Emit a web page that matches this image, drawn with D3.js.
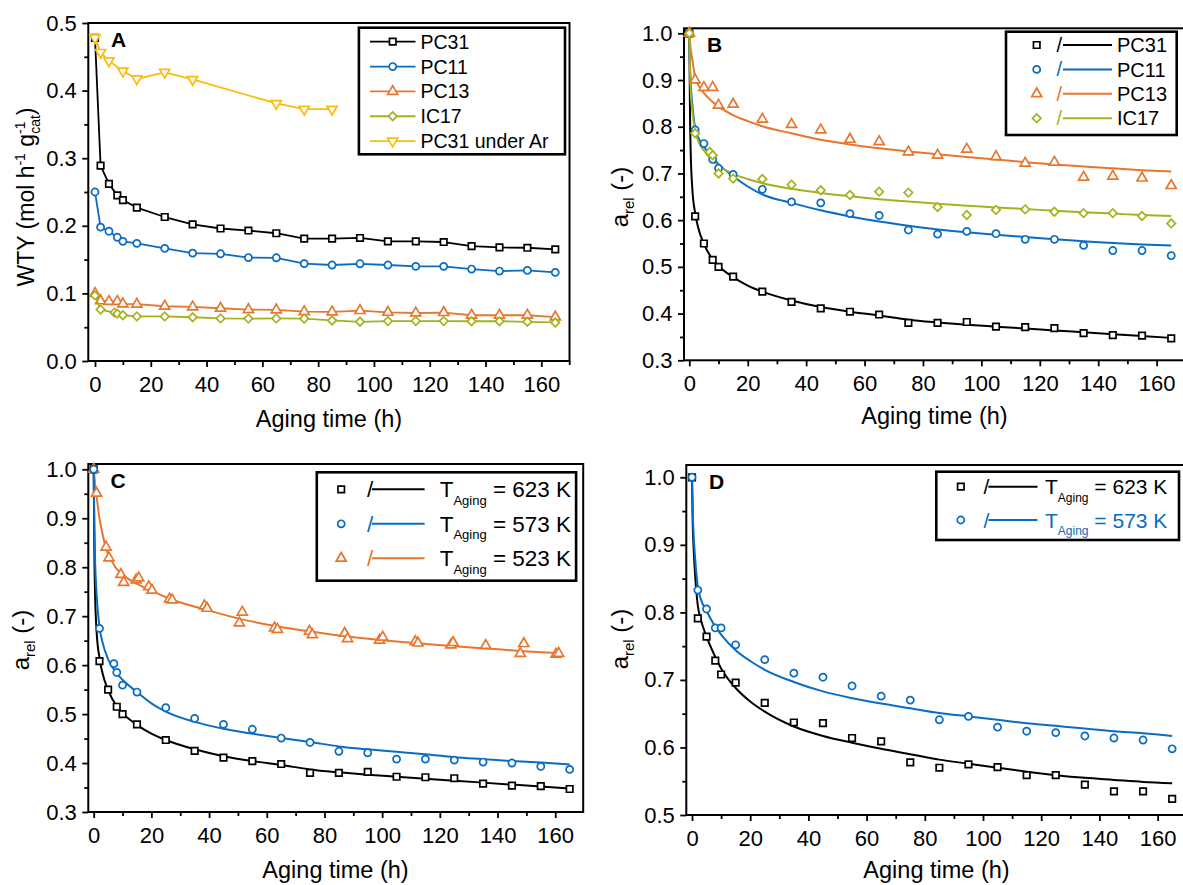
<!DOCTYPE html>
<html>
<head>
<meta charset="utf-8">
<title>Catalyst aging</title>
<script src="https://cdn.jsdelivr.net/npm/d3@7/dist/d3.min.js"></script>
<style>
  body { margin: 0; background: #fff; }
  svg { display: block; font-family: "Liberation Sans", Arial, sans-serif; }
</style>
</head>
<body>
<svg id="chart" width="1183" height="885"></svg>
<script>
// ---------- values ----------
const ticksHours = [0, 20, 40, 60, 80, 100, 120, 140, 160];
const ticksWTY = [0.0, 0.1, 0.2, 0.3, 0.4, 0.5];
const ticksRel = [0.3, 0.4, 0.5, 0.6, 0.7, 0.8, 0.9, 1.0];
const ticksRelD = [0.5, 0.6, 0.7, 0.8, 0.9, 1.0];

// sampling times (h)
const hours = [0, 2, 5, 8, 10, 15, 25, 35, 45, 55, 65, 75, 85, 95, 105, 115, 125, 135, 145, 155, 165];
const hoursAlt = [0, 2, 7, 8, 10, 15, 25, 35, 45, 55, 65, 75, 85, 95, 105, 115, 125, 135, 145, 155, 165];
const hoursAr = [0, 2, 5, 10, 15, 25, 35, 65, 75, 85];

// panel A: WTY (mol h-1 gcat-1)
const catalystsA = ["PC31", "PC11", "PC13", "IC17", "PC31 under Ar"];
const wtyPC31 = [0.478, 0.289, 0.262, 0.245, 0.238, 0.227, 0.213, 0.202, 0.196, 0.193, 0.189, 0.181, 0.181, 0.182, 0.177, 0.177, 0.176, 0.170, 0.168, 0.1675, 0.165];
const wtyPC11 = [0.250, 0.198, 0.192, 0.183, 0.177, 0.174, 0.1665, 0.1596, 0.1586, 0.153, 0.1527, 0.144, 0.142, 0.1438, 0.142, 0.140, 0.140, 0.136, 0.133, 0.134, 0.131];
const wtyPC13 = [0.100, 0.089, 0.088, 0.088, 0.0845, 0.084, 0.081, 0.080, 0.078, 0.076, 0.0756, 0.073, 0.0726, 0.0746, 0.072, 0.071, 0.0716, 0.0677, 0.0677, 0.0677, 0.065];
const wtyIC17 = [0.097, 0.076, 0.0716, 0.070, 0.0677, 0.066, 0.066, 0.0647, 0.063, 0.0627, 0.063, 0.0627, 0.060, 0.058, 0.059, 0.059, 0.059, 0.0588, 0.0588, 0.058, 0.057];
const wtyAr = [0.478, 0.4565, 0.444, 0.429, 0.4175, 0.427, 0.4165, 0.381, 0.3725, 0.3725];

// panel B: relative activity, measured
const catalystsB = ["PC31", "PC11", "PC13", "IC17"];
const relPC31 = [1.0, 0.608, 0.550, 0.515, 0.500, 0.479, 0.447, 0.425, 0.411, 0.404, 0.398, 0.380, 0.380, 0.382, 0.372, 0.371, 0.369, 0.358, 0.354, 0.353, 0.347];
const relPC11 = [1.0, 0.793, 0.764, 0.730, 0.711, 0.698, 0.666, 0.639, 0.637, 0.614, 0.610, 0.579, 0.570, 0.576, 0.571, 0.559, 0.559, 0.546, 0.535, 0.535, 0.524];
const relPC13 = [1.0, 0.900, 0.884, 0.884, 0.846, 0.848, 0.816, 0.805, 0.793, 0.773, 0.768, 0.746, 0.739, 0.752, 0.736, 0.722, 0.724, 0.692, 0.694, 0.690, 0.674];
const relIC17 = [1.0, 0.786, 0.746, 0.739, 0.700, 0.689, 0.688, 0.676, 0.664, 0.654, 0.661, 0.659, 0.628, 0.611, 0.622, 0.623, 0.618, 0.615, 0.615, 0.609, 0.593];

// fitted curves, read at these times
const fitHours = [0, 0.25, 0.5, 1, 2, 3, 5, 8, 10, 15, 20, 25, 35, 45, 55, 65, 75, 85, 95, 105, 115, 125, 135, 145, 155, 165];
const fitPC31 = [1.0, 0.82, 0.74, 0.67, 0.615, 0.585, 0.549, 0.516, 0.502, 0.478, 0.460, 0.447, 0.428, 0.414, 0.404, 0.396, 0.387, 0.381, 0.376, 0.372, 0.368, 0.364, 0.360, 0.356, 0.352, 0.348];
const fitPC11 = [1.0, 0.93, 0.89, 0.85, 0.797, 0.778, 0.757, 0.733, 0.720, 0.694, 0.672, 0.655, 0.637, 0.621, 0.608, 0.597, 0.588, 0.580, 0.574, 0.569, 0.564, 0.559, 0.555, 0.551, 0.548, 0.546];
const fitPC13 = [1.0, 0.98, 0.965, 0.945, 0.905, 0.89, 0.872, 0.853, 0.843, 0.825, 0.812, 0.801, 0.786, 0.772, 0.762, 0.754, 0.747, 0.741, 0.735, 0.730, 0.724, 0.719, 0.715, 0.711, 0.707, 0.704];
const fitIC17 = [1.0, 0.92, 0.875, 0.835, 0.790, 0.770, 0.749, 0.727, 0.717, 0.699, 0.688, 0.679, 0.667, 0.658, 0.651, 0.645, 0.640, 0.635, 0.631, 0.627, 0.624, 0.620, 0.617, 0.614, 0.611, 0.609];

// panel C: aging temperature, PC31
const tempsC = ["623", "573", "523"];
const rel623 = relPC31;
const rel573 = [1.0, 0.675, 0.603, 0.585, 0.559, 0.545, 0.513, 0.491, 0.479, 0.469, 0.451, 0.442, 0.424, 0.421, 0.408, 0.408, 0.406, 0.402, 0.400, 0.393, 0.387];
const hours523 = [0, 1.0, 4.3, 5.3, 9.4, 10.4, 14.7, 15.6, 19.1, 20.2, 26.3, 27.2, 38.4, 39.3, 50.5, 51.5, 62.7, 63.7, 74.8, 75.8, 87.0, 88.0, 99.1, 100.2, 111.5, 112.4, 123.8, 124.6, 135.9, 147.9, 149.1, 160.3, 161.2];
const rel523 = [1.0, 0.951, 0.841, 0.819, 0.785, 0.769, 0.774, 0.778, 0.760, 0.753, 0.735, 0.733, 0.721, 0.716, 0.686, 0.708, 0.676, 0.673, 0.669, 0.662, 0.665, 0.654, 0.651, 0.657, 0.648, 0.645, 0.641, 0.646, 0.640, 0.624, 0.644, 0.622, 0.624];
const fit623 = fitPC31;
const fit573 = [1.0, 0.88, 0.81, 0.745, 0.678, 0.648, 0.612, 0.583, 0.570, 0.545, 0.522, 0.505, 0.484, 0.470, 0.460, 0.451, 0.443, 0.434, 0.428, 0.423, 0.418, 0.412, 0.408, 0.404, 0.401, 0.397];
const fit523Hours = [0, 0.5, 1, 2, 3, 4.3, 6, 9.4, 12, 15, 20, 27, 39, 51, 63, 76, 87, 100, 112, 124, 136, 148, 161];
const fit523 = [1.0, 0.97, 0.945, 0.90, 0.87, 0.838, 0.815, 0.787, 0.776, 0.766, 0.752, 0.734, 0.713, 0.694, 0.680, 0.668, 0.659, 0.651, 0.645, 0.639, 0.634, 0.629, 0.625];

// panel D: aging temperature, PC11
const tempsD = ["623", "573"];
const relD623 = [1.0, 0.791, 0.764, 0.7285, 0.708, 0.696, 0.666, 0.637, 0.636, 0.614, 0.609, 0.578, 0.570, 0.575, 0.571, 0.559, 0.559, 0.545, 0.535, 0.535, 0.524];
const relD573 = [1.0, 0.833, 0.805, 0.777, 0.777, 0.752, 0.730, 0.710, 0.704, 0.691, 0.676, 0.670, 0.641, 0.646, 0.630, 0.624, 0.622, 0.617, 0.614, 0.611, 0.598];
const fitD623 = [1.0, 0.93, 0.90, 0.86, 0.81, 0.79, 0.764, 0.734, 0.717, 0.688, 0.668, 0.653, 0.631, 0.617, 0.607, 0.598, 0.590, 0.582, 0.576, 0.570, 0.564, 0.559, 0.555, 0.552, 0.549, 0.547];
const fitD573 = [1.0, 0.95, 0.92, 0.885, 0.838, 0.82, 0.802, 0.779, 0.767, 0.744, 0.728, 0.715, 0.697, 0.683, 0.673, 0.665, 0.658, 0.651, 0.646, 0.641, 0.636, 0.632, 0.628, 0.624, 0.621, 0.617];

// ---------- styling ----------
const BLACK = "#000000", BLUE = "#0a6cc2", ORANGE = "#e8762d", GREEN = "#a5b21c", GOLD = "#fdbb0a";
const TICK_FS = 22, TITLE_FS = 23.5;
const FONT = '"Liberation Sans", Arial, sans-serif';

const svg = d3.select("#chart");

const symbolPath = {
  square: d3.symbol().type(d3.symbolSquare).size(42)(),
  circle: d3.symbol().type(d3.symbolCircle).size(40)(),
  up: d3.symbol().type(d3.symbolTriangle).size(44)(),
  down: d3.symbol().type(d3.symbolTriangle).size(44)(),
  diamond: d3.symbol().type(d3.symbolSquare).size(36)()
};
const symbolRot = { square: 0, circle: 0, up: 0, down: 180, diamond: 45 };

function midpoints(arr) {
  return d3.pairs(arr).map(([a, b]) => (a + b) / 2);
}

function makePanel(p) {
  const x = d3.scaleLinear().domain(p.xDomain).range([p.left, p.right]);
  const y = d3.scaleLinear().domain(p.yDomain).range([p.bottom, p.top]);
  const g = svg.append("g");

  const xMinor = midpoints(ticksHours).concat([170]).filter(v => v <= p.xDomain[1]);
  const yMinor = midpoints(p.yTicks);

  const styleAxis = sel => {
    sel.select(".domain").remove();
    sel.selectAll(".tick line").attr("stroke", "#000").attr("stroke-width", 1.8);
    sel.selectAll(".tick text").attr("fill", "#000").style("font-size", TICK_FS + "px")
      .style("font-family", FONT);
  };

  g.append("g").attr("transform", `translate(0,${p.bottom})`)
    .call(d3.axisBottom(x).tickValues(xMinor).tickSize(4).tickFormat(""))
    .call(styleAxis);
  g.append("g").attr("transform", `translate(0,${p.bottom})`)
    .call(d3.axisBottom(x).tickValues(ticksHours).tickSize(6).tickPadding(9).tickFormat(d3.format("d")))
    .call(styleAxis);
  g.append("g").attr("transform", `translate(${p.left},0)`)
    .call(d3.axisLeft(y).tickValues(yMinor).tickSize(4).tickFormat(""))
    .call(styleAxis);
  g.append("g").attr("transform", `translate(${p.left},0)`)
    .call(d3.axisLeft(y).tickValues(p.yTicks).tickSize(6).tickPadding(5.5).tickFormat(d3.format(".1f")))
    .call(styleAxis);

  g.append("rect")
    .attr("x", p.left).attr("y", p.top)
    .attr("width", p.right - p.left).attr("height", p.bottom - p.top)
    .attr("fill", "none").attr("stroke", "#000").attr("stroke-width", 2);

  // panel letter
  g.append("text").attr("x", p.letterX).attr("y", p.letterY)
    .attr("font-size", 21).attr("font-weight", "bold").text(p.letter);

  // x title
  g.append("text").attr("x", p.xTitleX).attr("y", p.xTitleY)
    .attr("text-anchor", "middle").attr("font-size", TITLE_FS).text("Aging time (h)");

  return { g, x, y };
}

function drawLine(panel, xs, ys, color, width, curve) {
  const line = d3.line().x(d => panel.x(d[0])).y(d => panel.y(d[1])).curve(curve);
  panel.g.append("path")
    .attr("d", line(xs.map((v, i) => [v, ys[i]])))
    .attr("fill", "none").attr("stroke", color).attr("stroke-width", width)
    .attr("stroke-linejoin", "round");
}

function drawMarkers(panel, xs, ys, kind, color) {
  panel.g.append("g").selectAll("path")
    .data(xs.map((v, i) => [v, ys[i]]))
    .join("path")
    .attr("d", symbolPath[kind])
    .attr("transform", d => `translate(${panel.x(d[0])},${panel.y(d[1])}) rotate(${symbolRot[kind]})`)
    .attr("fill", "#fff").attr("stroke", color).attr("stroke-width", 1.7);
}

function legendMarker(g, cx, cy, kind, color) {
  g.append("path").attr("d", symbolPath[kind])
    .attr("transform", `translate(${cx},${cy}) rotate(${symbolRot[kind]})`)
    .attr("fill", "#fff").attr("stroke", color).attr("stroke-width", 1.7);
}

function legendBox(g, x0, y0, x1, y1) {
  g.append("rect").attr("x", x0).attr("y", y0).attr("width", x1 - x0).attr("height", y1 - y0)
    .attr("fill", "#fff").attr("stroke", "#000").attr("stroke-width", 2.6);
}

function yTitleRel(cx, cy) {
  const t = svg.append("text").attr("transform", `translate(${cx},${cy}) rotate(-90)`)
    .attr("text-anchor", "middle").attr("font-size", 24);
  t.append("tspan").text("a");
  t.append("tspan").attr("font-size", 15).attr("dy", 6).text("rel");
  t.append("tspan").attr("dy", -6).text(" (-)");
}

// ================= Panel A =================
const pA = makePanel({
  left: 88.3, right: 569.5, top: 23, bottom: 361,
  xDomain: [-2.4, 170.1], yDomain: [0, 0.5], yTicks: ticksWTY,
  letter: "A", letterX: 111, letterY: 47, xTitleX: 329, xTitleY: 426.5
});
const seriesA = [
  { xs: hours, ys: wtyPC31, kind: "square", color: BLACK },
  { xs: hours, ys: wtyPC11, kind: "circle", color: BLUE },
  { xs: hours, ys: wtyPC13, kind: "up", color: ORANGE },
  { xs: hoursAlt, ys: wtyIC17, kind: "diamond", color: GREEN },
  { xs: hoursAr, ys: wtyAr, kind: "down", color: GOLD }
];
seriesA.forEach(s => {
  drawLine(pA, s.xs, s.ys, s.color, 1.8, d3.curveLinear);
  drawMarkers(pA, s.xs, s.ys, s.kind, s.color);
});
{
  const lg = pA.g.append("g");
  legendBox(lg, 358.9, 27.7, 565, 154.3);
  seriesA.forEach((s, i) => {
    const cy = 41.7 + i * 24.85;
    lg.append("line").attr("x1", 370).attr("x2", 415.5).attr("y1", cy).attr("y2", cy)
      .attr("stroke", s.color).attr("stroke-width", 1.8);
    legendMarker(lg, 392.7, cy, s.kind, s.color);
    lg.append("text").attr("x", 420.5).attr("y", cy + 7).attr("font-size", 19.5).text(catalystsA[i]);
  });
}
{
  const t = svg.append("text").attr("transform", "translate(34,197) rotate(-90)")
    .attr("text-anchor", "middle").attr("font-size", 23);
  t.append("tspan").text("WTY (mol h");
  t.append("tspan").attr("font-size", 14).attr("dy", -9).text("-1");
  t.append("tspan").attr("dy", 9).text(" g");
  t.append("tspan").attr("font-size", 14).attr("dy", -9).text("-1");
  t.append("tspan").attr("font-size", 14).attr("dx", -12.4).attr("dy", 15).text("cat");
  t.append("tspan").attr("dy", -6).text(")");
}

// ================= Panel B =================
const pB = makePanel({
  left: 684, right: 1187, top: 28.3, bottom: 360.3,
  xDomain: [-1.82, 170.4], yDomain: [0.3, 1.0107], yTicks: ticksRel,
  letter: "B", letterX: 707, letterY: 52, xTitleX: 934.5, xTitleY: 424
});
const seriesB = [
  { ys: relPC31, fit: fitPC31, xs: hours, kind: "square", color: BLACK },
  { ys: relPC11, fit: fitPC11, xs: hours, kind: "circle", color: BLUE },
  { ys: relPC13, fit: fitPC13, xs: hours, kind: "up", color: ORANGE },
  { ys: relIC17, fit: fitIC17, xs: hoursAlt, kind: "diamond", color: GREEN }
];
seriesB.forEach(s => drawLine(pB, fitHours, s.fit, s.color, 2, d3.curveMonotoneX));
seriesB.forEach(s => drawMarkers(pB, s.xs, s.ys, s.kind, s.color));
{
  const lg = pB.g.append("g");
  legendBox(lg, 1006, 31.7, 1176.7, 135);
  seriesB.forEach((s, i) => {
    const cy = 45 + i * 24.4;
    legendMarker(lg, 1036.7, cy, s.kind, s.color);
    lg.append("text").attr("x", 1056.5).attr("y", cy + 7).attr("font-size", 20).attr("fill", s.color).text("/");
    lg.append("line").attr("x1", 1063).attr("x2", 1112).attr("y1", cy).attr("y2", cy)
      .attr("stroke", s.color).attr("stroke-width", 2);
    lg.append("text").attr("x", 1117).attr("y", cy + 7.2).attr("font-size", 20).text(catalystsB[i]);
  });
}
yTitleRel(627.5, 197);

// ================= Panel C =================
const pC = makePanel({
  left: 88.3, right: 583.2, top: 464, bottom: 812,
  xDomain: [-1.87, 169.7], yDomain: [0.3, 1.0108], yTicks: ticksRel,
  letter: "C", letterX: 110.5, letterY: 488, xTitleX: 335.5, xTitleY: 878
});
const seriesC = [
  { xs: hours, ys: rel623, fx: fitHours, fit: fit623, kind: "square", color: BLACK },
  { xs: hours523, ys: rel523, fx: fit523Hours, fit: fit523, kind: "up", color: ORANGE },
  { xs: hoursAlt, ys: rel573, fx: fitHours, fit: fit573, kind: "circle", color: BLUE }
];
seriesC.forEach(s => drawLine(pC, s.fx, s.fit, s.color, 2, d3.curveMonotoneX));
seriesC.forEach(s => drawMarkers(pC, s.xs, s.ys, s.kind, s.color));
function tempLegend(g, entries, temps, opt) {
  entries.forEach((s, i) => {
    const cy = opt.y0 + i * opt.step;
    const base = cy + 0.358 * opt.fs;
    legendMarker(g, opt.mx, cy, s.kind, s.color);
    g.append("text").attr("x", opt.sx).attr("y", base).attr("font-size", opt.fs).attr("fill", s.color).text("/");
    g.append("line").attr("x1", opt.l0).attr("x2", opt.l1).attr("y1", cy).attr("y2", cy)
      .attr("stroke", s.color).attr("stroke-width", 2);
    const t = g.append("text").attr("x", opt.tx).attr("y", base).attr("font-size", opt.fs)
      .attr("fill", s.textColor || "#000");
    t.append("tspan").text("T");
    t.append("tspan").attr("font-size", opt.sub).attr("dy", 7.5).text("Aging");
    t.append("tspan").attr("dy", -7.5).text(" = " + temps[i] + " K");
  });
}
{
  const lg = pC.g.append("g");
  legendBox(lg, 316.8, 472.3, 576.1, 580.7);
  tempLegend(lg, [seriesC[0], seriesC[2], seriesC[1]], tempsC,
    { y0: 489.3, step: 34.5, fs: 22.5, sub: 13, mx: 341.2, sx: 367, l0: 372, l1: 424.6, tx: 439.7 });
}
yTitleRel(28.5, 640);

// ================= Panel D =================
const pD = makePanel({
  left: 686.3, right: 1187, top: 465, bottom: 815,
  xDomain: [-1.96, 170.1], yDomain: [0.5, 1.0182], yTicks: ticksRelD,
  letter: "D", letterX: 709, letterY: 489, xTitleX: 936.5, xTitleY: 878
});
const seriesD = [
  { ys: relD623, fit: fitD623, kind: "square", color: BLACK, textColor: BLACK },
  { ys: relD573, fit: fitD573, kind: "circle", color: BLUE, textColor: BLUE }
];
seriesD.forEach(s => drawLine(pD, fitHours, s.fit, s.color, 2, d3.curveMonotoneX));
seriesD.forEach(s => drawMarkers(pD, hours, s.ys, s.kind, s.color));
{
  const lg = pD.g.append("g");
  legendBox(lg, 936.3, 471.7, 1179, 540);
  tempLegend(lg, seriesD, tempsD,
    { y0: 486.7, step: 33.3, fs: 21, sub: 12, mx: 960.8, sx: 983.5, l0: 988.4, l1: 1037.5, tx: 1045 });
}
yTitleRel(628, 639);
</script>
</body>
</html>
